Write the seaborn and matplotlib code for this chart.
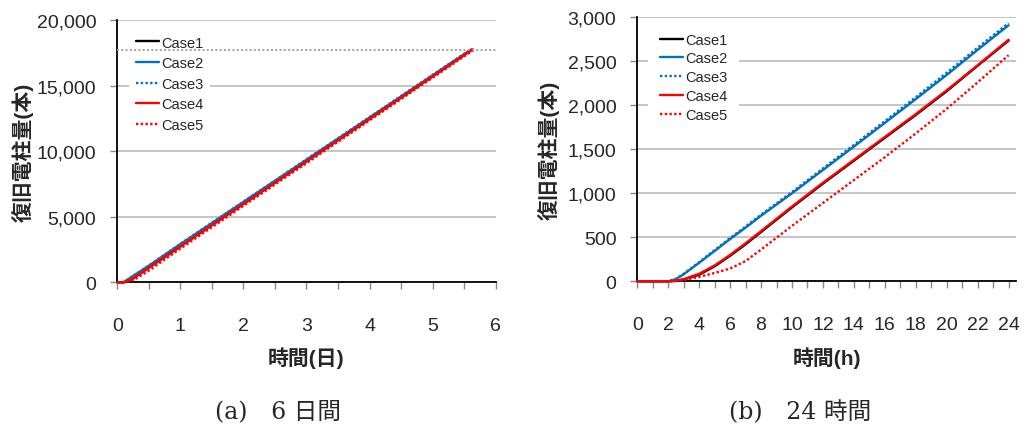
import numpy as np
import pandas as pd
import matplotlib
matplotlib.use("Agg")
import matplotlib.pyplot as plt
from matplotlib.ticker import MultipleLocator, StrMethodFormatter
import seaborn as sns

# Cases
cases = ["Case1", "Case2", "Case3", "Case4", "Case5"]
colors = ["#000000", "#0070C0", "#0070C0", "#FF0000", "#FF0000"]
styles = ["-", "-", (0, (1, 1)), "-", (0, (1, 1))]

# (a) 6 days
days = [0, 0.1, 0.25, 0.5, 1, 2, 3, 4, 5]
end_days = [5.63, 5.61, 5.60, 5.63, 5.66]
end_total = 17750
case1_d = [0, 0, 290, 1110, 2735, 5980, 9220, 12465, 15705]
case2_d = [0, 5, 480, 1265, 2910, 6130, 9350, 12565, 15785]
case3_d = [0, 6, 492, 1282, 2935, 6155, 9375, 12600, 15820]
case4_d = [0, 0, 300, 1120, 2745, 5985, 9225, 12470, 15710]
case5_d = [0, 0, 145, 890, 2570, 5830, 9085, 12345, 15600]

# (b) 24 hours
hours = [0, 1, 2, 2.5, 3, 4, 5, 6, 7, 8, 10, 12, 14, 16, 18, 20, 22, 24]
case1_h = [0, 0, 0, 5, 20, 75, 170, 290, 420, 560, 840, 1110, 1370, 1630, 1890, 2160, 2450, 2735]
case2_h = [0, 0, 0, 25, 80, 210, 345, 480, 610, 745, 1000, 1265, 1530, 1800, 2070, 2345, 2630, 2910]
case3_h = [0, 0, 0, 28, 85, 218, 355, 492, 622, 758, 1015, 1282, 1550, 1820, 2092, 2370, 2655, 2935]
case4_h = [0, 0, 0, 6, 24, 85, 180, 300, 432, 570, 850, 1120, 1380, 1640, 1900, 2170, 2455, 2745]
case5_h = [0, 0, 0, 3, 15, 50, 95, 145, 230, 360, 630, 890, 1150, 1410, 1680, 1960, 2260, 2570]

sns.set_style("white")
plt.rcParams["font.family"] = ["Liberation Sans", "Noto Sans CJK JP"]

fig = plt.figure(figsize=(10.26, 4.39), dpi=100)
W, H = 1026, 439
ax1 = fig.add_axes([117.3 / W, 1 - 283.3 / H, 378.4 / W, 262.3 / H])
ax2 = fig.add_axes([637.3 / W, 1 - 282.3 / H, 379 / W, 264 / H])

series_d = [case1_d, case2_d, case3_d, case4_d, case5_d]
series_h = [case1_h, case2_h, case3_h, case4_h, case5_h]

for i, name in enumerate(cases):
    x = days + [end_days[i]]
    y = series_d[i] + [end_total]
    sns.lineplot(x=x, y=y, ax=ax1, color=colors[i], linestyle=styles[i],
                 linewidth=1.7, label=name, zorder=3, clip_on=False)
    sns.lineplot(x=hours, y=series_h[i], ax=ax2, color=colors[i], linestyle=styles[i],
                 linewidth=1.7, label=name, zorder=3, clip_on=False)

ax1.axhline(17730, color="#a0a0a0", linestyle=(0, (1, 1.2)), linewidth=1.4, zorder=6)

def style_axes(ax, xlim, ylim, ystep, xmajor, xminor):
    ax.set_xlim(*xlim)
    ax.set_ylim(*ylim)
    ax.yaxis.set_major_locator(MultipleLocator(ystep))
    ax.yaxis.set_major_formatter(StrMethodFormatter("{x:,.0f}"))
    ax.xaxis.set_major_locator(MultipleLocator(xmajor))
    ax.xaxis.set_minor_locator(MultipleLocator(xminor))
    ax.grid(axis="y", color="#b5b5b5", linewidth=1.1)
    ax.grid(axis="x", visible=False)
    for s in ["top", "right"]:
        ax.spines[s].set_visible(False)
    for s in ["left", "bottom"]:
        ax.spines[s].set_color("black")
        ax.spines[s].set_linewidth(1.3)
    ax.tick_params(axis="y", which="major", direction="out", length=5, width=1,
                   color="#888888", pad=10, labelsize=14, left=True)
    ax.tick_params(axis="x", which="both", direction="out", length=5, width=1,
                   color="#888888", pad=20, labelsize=14, bottom=True)

style_axes(ax1, (0, 6), (0, 20000), 5000, 1, 0.5)
style_axes(ax2, (0, 24.5), (0, 3000), 500, 2, 1)

lab_font = dict(fontsize=15, fontweight="bold")
ax1.set_xlabel("時間(日)", **lab_font)
ax2.set_xlabel("時間(h)", **lab_font)
ax1.set_ylabel("復旧電柱量(本)", **lab_font)
ax2.set_ylabel("復旧電柱量(本)", **lab_font)
for ax, yl_x, xl_y in [(ax1, -0.249, -0.285), (ax2, -0.233, -0.287)]:
    ax.xaxis.label.set_va("center")
    ax.yaxis.label.set_va("center")
    ax.xaxis.set_label_coords(0.5, xl_y)
    ax.yaxis.set_label_coords(yl_x, 0.5)

leg_kw = dict(loc="upper left", bbox_transform=fig.transFigure, frameon=True,
              facecolor="white", edgecolor="none", framealpha=1, fancybox=False,
              borderaxespad=0, handlelength=1.6, handletextpad=0.15, fontsize=10.5)
ax1.legend(bbox_to_anchor=(129 / W, 1 - 30 / H), labelspacing=0.45, borderpad=0.45, **leg_kw)
ax2.legend(bbox_to_anchor=(648 / W, 1 - 22 / H), labelspacing=0.33, borderpad=0.8, **leg_kw)

cap_font = dict(fontsize=17, family=["DejaVu Serif", "Noto Sans CJK JP"], ha="center", va="center")
fig.text(278 / W, 1 - 412 / H, "(a)\u30006 日間", **cap_font)
fig.text(800 / W, 1 - 412 / H, "(b)\u300024 時間", **cap_font)

fig.savefig("out.png", dpi=100)
